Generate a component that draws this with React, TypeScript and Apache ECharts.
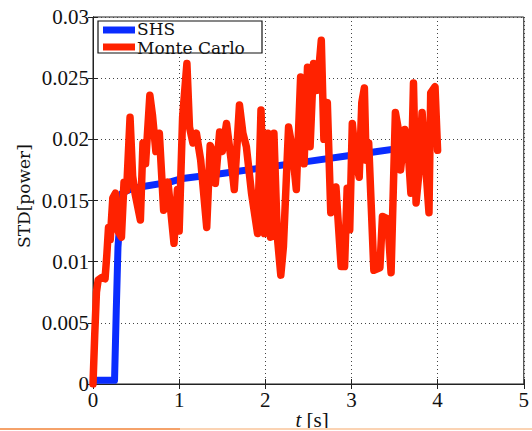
import React, { useEffect, useRef } from "react";
import * as echarts from "echarts";

const xTicks = [0, 1, 2, 3, 4, 5];
const yTicks = [0, 0.005, 0.01, 0.015, 0.02, 0.025, 0.03];
const seriesNames = ["SHS", "Monte Carlo"];

const shsData: [number, number][] = [
  [0.03, 0.0003], [0.25, 0.0003], [0.27, 0.006], [0.29, 0.0112], [0.335, 0.0156],
  [0.46, 0.016], [0.89, 0.0165], [1.04, 0.0168], [1.5, 0.0172], [2.0, 0.0177],
  [2.5, 0.0182], [3.0, 0.0187], [3.3, 0.019], [3.6, 0.0193],
];

const monteCarloData: [number, number][] = [
  [0, 0], [0.02, 0.004], [0.04, 0.0075], [0.06, 0.0085], [0.1, 0.0087], [0.14, 0.0086],
  [0.16, 0.0105], [0.18, 0.0128], [0.2, 0.0118], [0.23, 0.0152], [0.26, 0.0156],
  [0.29, 0.0125], [0.33, 0.012], [0.36, 0.0165], [0.39, 0.0158], [0.43, 0.0218],
  [0.46, 0.017], [0.49, 0.0155], [0.55, 0.0134], [0.58, 0.0197], [0.61, 0.018],
  [0.66, 0.0236], [0.69, 0.022], [0.73, 0.019], [0.77, 0.0205], [0.82, 0.0142],
  [0.87, 0.0165], [0.94, 0.0115], [0.98, 0.0159], [1.0, 0.0125], [1.04, 0.0218],
  [1.09, 0.0262], [1.12, 0.021], [1.16, 0.0197], [1.2, 0.0205], [1.25, 0.0183],
  [1.32, 0.0128], [1.36, 0.0195], [1.4, 0.0188], [1.42, 0.0164], [1.47, 0.0206],
  [1.5, 0.019], [1.55, 0.0213], [1.6, 0.0185], [1.64, 0.0159], [1.7, 0.0228],
  [1.74, 0.0205], [1.78, 0.0194], [1.84, 0.0156], [1.91, 0.0123], [1.95, 0.0224],
  [1.99, 0.0123], [2.03, 0.0205], [2.06, 0.012], [2.1, 0.0205], [2.14, 0.012],
  [2.18, 0.0089], [2.21, 0.0112], [2.27, 0.021], [2.31, 0.0194], [2.36, 0.0159],
  [2.41, 0.0251], [2.45, 0.018], [2.49, 0.0259], [2.52, 0.0194], [2.56, 0.0262],
  [2.6, 0.024], [2.65, 0.0281], [2.68, 0.02], [2.72, 0.023], [2.76, 0.014],
  [2.82, 0.0161], [2.88, 0.0096], [2.92, 0.0096], [2.95, 0.016], [2.98, 0.0126],
  [3.01, 0.0213], [3.05, 0.0183], [3.09, 0.0169], [3.12, 0.023], [3.15, 0.0242],
  [3.17, 0.0183], [3.2, 0.0197], [3.26, 0.0093], [3.33, 0.0095], [3.36, 0.0137],
  [3.42, 0.0135], [3.46, 0.0091], [3.51, 0.0222], [3.54, 0.021], [3.57, 0.0175],
  [3.62, 0.0208], [3.66, 0.0189], [3.69, 0.0156], [3.72, 0.0246], [3.75, 0.0148],
  [3.78, 0.017], [3.82, 0.0222], [3.86, 0.018], [3.9, 0.014], [3.92, 0.0238],
  [3.97, 0.0243], [4.0, 0.0191],
];

const BLUE = "#0a2cff";
const RED = "#ff2200";
const SERIF = "Liberation Serif";

export default function App() {
  const ref = useRef<HTMLDivElement>(null);
  useEffect(() => {
    if (!ref.current) return;
    const chart = echarts.init(ref.current, undefined, { renderer: "svg" });
    const gridLine = { show: true, lineStyle: { color: "#444", type: [1, 3] as any, width: 1 } };
    const labelStyle = { color: "#111", fontFamily: SERIF, fontSize: 21 };
    chart.setOption({
      animation: false,
      backgroundColor: "#fff",
      grid: { left: 93, right: 7, top: 17, bottom: 47, show: true, borderColor: "#222", borderWidth: 1 },
      xAxis: [
        {
          type: "value", min: xTicks[0], max: xTicks[xTicks.length - 1], interval: 1,
          axisLine: { show: true, lineStyle: { color: "#222" } },
          axisTick: { show: true, inside: true, length: 5, lineStyle: { color: "#222" } },
          axisLabel: { ...labelStyle, margin: 5 },
          splitLine: gridLine,
        },
        {
          type: "value", position: "top", min: 0, max: 5, interval: 1,
          axisLine: { show: true, lineStyle: { color: "#222" } },
          axisTick: { show: true, inside: true, length: 5, lineStyle: { color: "#222" } },
          axisLabel: { show: false }, splitLine: { show: false },
        },
      ],
      yAxis: [
        {
          type: "value", min: yTicks[0], max: yTicks[yTicks.length - 1], interval: 0.005,
          axisLine: { show: true, lineStyle: { color: "#222" } },
          axisTick: { show: true, inside: true, length: 5, lineStyle: { color: "#222" } },
          axisLabel: { ...labelStyle, margin: 4, formatter: (v: number) => String(+v.toFixed(4)) },
          splitLine: gridLine,
        },
        {
          type: "value", position: "right", min: 0, max: 0.03, interval: 0.005,
          axisLine: { show: true, lineStyle: { color: "#222" } },
          axisTick: { show: true, inside: true, length: 5, lineStyle: { color: "#222" } },
          axisLabel: { show: false }, splitLine: { show: false },
        },
      ],
      series: [
        {
          name: seriesNames[0], type: "line", data: shsData, showSymbol: false,
          lineStyle: { color: BLUE, width: 7, join: "round", cap: "round" }, z: 2,
        },
        {
          name: seriesNames[1], type: "line", data: monteCarloData, showSymbol: false,
          lineStyle: { color: RED, width: 7.5, join: "round", cap: "round" }, z: 3,
        },
      ],
      graphic: [
        { type: "rect", z: 100, shape: { x: 98, y: 21, width: 164, height: 32 }, style: { fill: "#fff", stroke: "#111", lineWidth: 1.2 } },
        { type: "line", z: 101, shape: { x1: 103, y1: 30, x2: 135, y2: 30 }, style: { stroke: BLUE, lineWidth: 7 } },
        { type: "line", z: 101, shape: { x1: 103, y1: 47, x2: 135, y2: 47 }, style: { stroke: RED, lineWidth: 7 } },
        { type: "text", z: 101, x: 137, y: 29, style: { text: seriesNames[0], fontFamily: "DejaVu Serif", fontSize: 17, fill: "#111", verticalAlign: "middle" } },
        { type: "text", z: 101, x: 137, y: 48, style: { text: seriesNames[1], fontFamily: "DejaVu Serif", fontSize: 17, fill: "#111", verticalAlign: "middle" } },
        { type: "text", z: 101, x: 24, y: 196, rotation: Math.PI / 2, style: { text: "STD[power]", fontFamily: "DejaVu Serif", fontSize: 17, fill: "#111", align: "center", verticalAlign: "middle" } },
        {
          type: "text", z: 101, x: 312, y: 420,
          style: {
            text: "{i|t} [s]", fontFamily: SERIF, fontSize: 21, fill: "#111", align: "center", verticalAlign: "middle",
            rich: { i: { fontStyle: "italic", fontFamily: SERIF, fontSize: 21 } },
          },
        },
        { type: "rect", z: 110, shape: { x: 0, y: 428, width: 180, height: 2 }, style: { fill: "#f5a26a" } },
        { type: "rect", z: 110, shape: { x: 180, y: 428, width: 352, height: 2 }, style: { fill: "#fbd3b3" } },
        { type: "rect", z: 110, shape: { x: 0, y: 430, width: 532, height: 1 }, style: { fill: "#fff" } },
      ],
    });
    return () => chart.dispose();
  }, []);
  return <div ref={ref} style={{ position: "fixed", left: 0, top: 0, width: 532, height: 431 }} />;
}
